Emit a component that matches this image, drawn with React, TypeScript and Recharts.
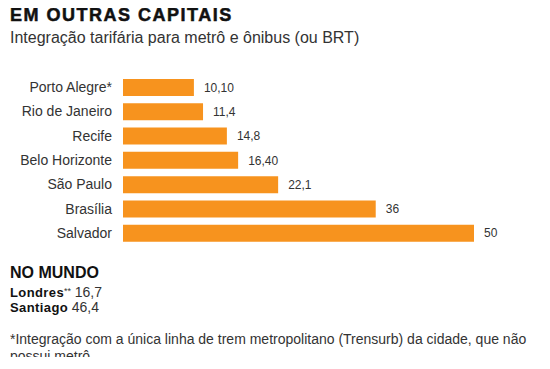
import React from "react";
import { BarChart, Bar, XAxis, YAxis, LabelList } from "recharts";

const cities = [
  "Porto Alegre*",
  "Rio de Janeiro",
  "Recife",
  "Belo Horizonte",
  "São Paulo",
  "Brasília",
  "Salvador",
];
const values = [10.1, 11.4, 14.8, 16.4, 22.1, 36, 50];
const valueLabels = ["10,10", "11,4", "14,8", "16,40", "22,1", "36", "50"];

const worldCities = ["Londres", "Santiago"];
const worldMarks = ["**", ""];
const worldValues = ["16,7", "46,4"];

const FONT = '"Liberation Sans", Arial, sans-serif';
const ORANGE = "#F7931E";

export default function App() {
  const data = cities.map((name, i) => ({
    name,
    value: values[i],
    label: valueLabels[i],
  }));

  return (
    <div
      style={{
        position: "relative",
        margin: -8,
        width: 550,
        height: 369,
        overflow: "hidden",
        background: "#fff",
        fontFamily: FONT,
        color: "#333",
      }}
    >
      <div
        style={{
          position: "absolute",
          left: 10,
          top: 6,
          fontSize: 18,
          lineHeight: "18px",
          fontWeight: 900,
          letterSpacing: 1.5,
          color: "#111",
          WebkitTextStroke: "0.5px #111",
        }}
      >
        EM OUTRAS CAPITAIS
      </div>
      <div
        style={{
          position: "absolute",
          left: 10,
          top: 30,
          fontSize: 16,
          lineHeight: "16px",
          whiteSpace: "nowrap",
        }}
      >
        Integração tarifária para metrô e ônibus (ou BRT)
      </div>

      <div style={{ position: "absolute", left: 0, top: 0 }}>
        <BarChart
          width={550}
          height={250}
          data={data}
          layout="vertical"
          margin={{ top: 75, right: 76, bottom: 5, left: 0 }}
        >
          <XAxis type="number" domain={[0, 50]} hide />
          <YAxis
            type="category"
            dataKey="name"
            width={123}
            axisLine={false}
            tickLine={false}
            tickMargin={5}
            interval={0}
            tick={{ fontSize: 14, fill: "#333", fontFamily: FONT }}
          />
          <Bar dataKey="value" fill={ORANGE} barSize={17} isAnimationActive={false}>
            <LabelList
              dataKey="label"
              position="right"
              offset={10}
              style={{ fontSize: 12, fill: "#333", fontFamily: FONT }}
            />
          </Bar>
        </BarChart>
      </div>

      <div
        style={{
          position: "absolute",
          left: 10,
          top: 265,
          fontSize: 16,
          lineHeight: "16px",
          fontWeight: 700,
          color: "#111",
        }}
      >
        NO MUNDO
      </div>
      {worldCities.map((c, i) => (
        <div
          key={c}
          style={{
            position: "absolute",
            left: 10,
            top: 284.5 + i * 16.3,
            fontSize: 13,
            lineHeight: "13px",
            whiteSpace: "nowrap",
          }}
        >
          <span style={{ fontWeight: 700, color: "#111", letterSpacing: 0.4 }}>{c}</span>
          {worldMarks[i] && (
            <span style={{ fontSize: 9, verticalAlign: "3px" }}>{worldMarks[i]}</span>
          )}{" "}
          <span style={{ fontSize: 14 }}>{worldValues[i]}</span>
        </div>
      ))}

      <div
        style={{
          position: "absolute",
          left: 10,
          top: 331,
          width: 535,
          height: 26,
          overflow: "hidden",
          fontSize: 14,
          lineHeight: "17px",
        }}
      >
        *Integração com a única linha de trem metropolitano (Trensurb) da cidade, que não possui metrô
      </div>
    </div>
  );
}
